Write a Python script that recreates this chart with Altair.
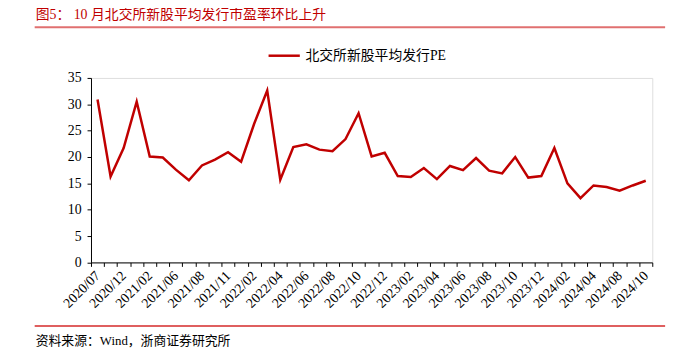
import altair as alt
import pandas as pd

dates = ["2020/07", "2020/11", "2020/12", "2021/01", "2021/02", "2021/05", "2021/06", "2021/07",
         "2021/08", "2021/10", "2021/11", "2021/12", "2022/02", "2022/03", "2022/04", "2022/05",
         "2022/06", "2022/07", "2022/08", "2022/09", "2022/10", "2022/11", "2022/12", "2023/01",
         "2023/02", "2023/03", "2023/04", "2023/05", "2023/06", "2023/07", "2023/08", "2023/09",
         "2023/10", "2023/11", "2023/12", "2024/01", "2024/02", "2024/03", "2024/04", "2024/06",
         "2024/08", "2024/09", "2024/10"]
pe = [30.9, 16.3, 21.7, 30.5, 20.1, 19.9, 17.6, 15.6, 18.4, 19.5, 20.9, 19.1, 26.3, 32.6,
      15.7, 21.9, 22.4, 21.4, 21.1, 23.4, 28.3, 20.1, 20.8, 16.4, 16.2, 17.9, 15.8, 18.3,
      17.5, 19.8, 17.4, 16.9, 20.0, 16.1, 16.4, 21.7, 15.0, 12.2, 14.6, 14.3, 13.6, 14.6, 15.5]
shown_labels = dates[::2]
series_name = "北交所新股平均发行PE"
title_text = "图5：  10 月北交所新股平均发行市盈率环比上升"
source_text = "资料来源：Wind，浙商证券研究所"

df = pd.DataFrame({"date": dates, "pe": pe, "series": series_name})

SERIF = "Liberation Serif, Noto Sans CJK SC"
RED = "#c00000"

label_list = "[" + ",".join("'" + s + "'" for s in shown_labels) + "]"

line = alt.Chart(df).mark_line(strokeWidth=2.5, clip=False).encode(
    x=alt.X("date:O", sort=None, bandPosition=0.5,
            scale=alt.Scale(type="band", paddingInner=0, paddingOuter=0),
            axis=alt.Axis(title=None, tickBand="extent", labelAngle=-45, labelAlign="right",
                          labelBaseline="middle", labelFont=SERIF, labelFontSize=14,
                          labelColor="#000", domainColor="#000", tickColor="#000",
                          tickSize=4, labelPadding=7, grid=False,
                          labelExpr="indexof(" + label_list + ", datum.value) >= 0 ? datum.label : ''")),
    y=alt.Y("pe:Q", scale=alt.Scale(domain=[0, 35], nice=False),
            axis=alt.Axis(title=None, values=[0, 5, 10, 15, 20, 25, 30, 35], labelFont=SERIF,
                          labelFontSize=14, labelColor="#000", domainColor="#000",
                          tickColor="#000", tickSize=4, labelPadding=6, grid=False)),
    color=alt.Color("series:N", scale=alt.Scale(range=[RED]),
                    legend=alt.Legend(orient="none", legendX=178, legendY=-40, title=None,
                                      symbolType="stroke", symbolSize=1000,
                                      symbolStrokeWidth=2.5, labelFont=SERIF,
                                      labelFontSize=14, labelColor="#000",
                                      direction="horizontal", labelOffset=4)),
)

one = pd.DataFrame({"a": [0]})
title_mark = alt.Chart(one).mark_text(align="left", baseline="middle", font=SERIF,
                                      fontSize=14, color=RED).encode(
    x=alt.value(-56), y=alt.value(-64), text=alt.value(title_text))
source_mark = alt.Chart(one).mark_text(align="left", baseline="middle", font=SERIF,
                                       fontSize=13, color="#000").encode(
    x=alt.value(-56), y=alt.value(266.6), text=alt.value(source_text))
top_rule = alt.Chart(one).mark_rule(color="#e07070", strokeWidth=2).encode(
    x=alt.value(-57), x2=alt.value(581), y=alt.value(-51.4))
bottom_rule = alt.Chart(one).mark_rule(color="#d42a2a", strokeWidth=1.5).encode(
    x=alt.value(-57), x2=alt.value(581), y=alt.value(251))

chart = alt.layer(line, title_mark, source_mark, top_rule, bottom_rule).properties(
    width=568, height=186.7,
    autosize=alt.AutoSizeParams(type="none"),
    padding={"left": 84, "top": 68.7, "right": 23, "bottom": 92},
).configure_view(stroke=None).configure(background="white")

chart.save("out.html", embed_options={"renderer": "svg", "actions": False})
